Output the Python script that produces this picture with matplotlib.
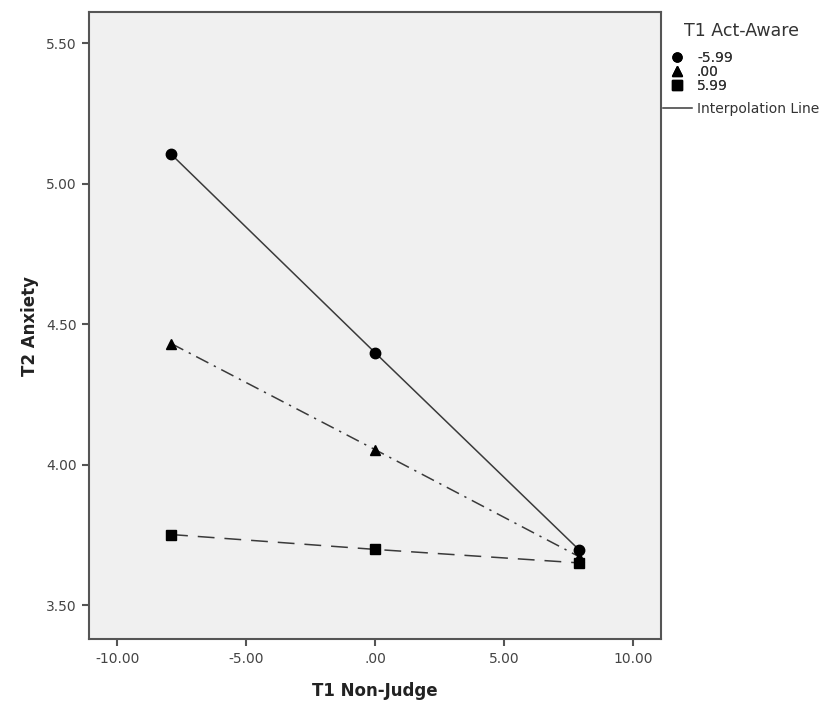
import matplotlib
matplotlib.use("Agg")
import matplotlib.pyplot as plt
from matplotlib.lines import Line2D

# data
non_judge = [-7.91, 0.0, 7.91]
act_aware_labels = ["-5.99", ".00", "5.99"]
anxiety_low = [5.105, 4.398, 3.696]
anxiety_mid = [4.431, 4.053, 3.672]
anxiety_high = [3.751, 3.698, 3.650]

x_ticks = [-10, -5, 0, 5, 10]
x_tick_labels = ["-10.00", "-5.00", ".00", "5.00", "10.00"]
y_ticks = [3.5, 4.0, 4.5, 5.0, 5.5]
y_tick_labels = ["3.50", "4.00", "4.50", "5.00", "5.50"]

plt.rcParams['font.family'] = ['DejaVu Sans']

fig = plt.figure(figsize=(8.30, 7.03), dpi=100)
ax = fig.add_axes([0.1076, 0.091, 0.6888, 0.8919])
ax.set_facecolor("#f0f0f0")

line_col = "#3a3a3a"
series = [
    (anxiety_low, "o", "-"),
    (anxiety_mid, "^", (0, (9, 4, 1.5, 4))),
    (anxiety_high, "s", (0, (11, 6.5))),
]
for vals, mk, ls in series:
    ax.plot(non_judge, vals, color=line_col, linestyle=ls, linewidth=1.1, zorder=2)
    ax.plot(non_judge, vals, linestyle="none", marker=mk, markersize=7.5,
            color="black", zorder=3)

ax.set_xlim(-11.08, 11.08)
ax.set_ylim(3.379, 5.611)
ax.set_xticks(x_ticks)
ax.set_xticklabels(x_tick_labels)
ax.set_yticks(y_ticks)
ax.set_yticklabels(y_tick_labels)
ax.tick_params(direction="out", length=5, width=1.5, color="#555555",
               labelcolor="#444444", labelsize=10, pad=4)
for s in ax.spines.values():
    s.set_color("#555555")
    s.set_linewidth(1.5)

ax.set_xlabel("T1 Non-Judge", fontsize=12, fontweight="bold", color="#222222", labelpad=12)
ax.set_ylabel("T2 Anxiety", fontsize=12, fontweight="bold", color="#222222", labelpad=5)

# legend: title, marker entries, then the interpolation line
fig.text(684 / 830, 1 - 31 / 703, "T1 Act-Aware", fontsize=12.5, color="#333333",
         ha="left", va="center")

handles = [Line2D([], [], linestyle="none", marker=m, color="black", markersize=6.5)
           for m in ["o", "^", "s"]]
leg1 = fig.legend(handles, act_aware_labels,
                  loc="upper left", bbox_to_anchor=(671.4 / 830, 1 - 51 / 703), frameon=False,
                  fontsize=10, handlelength=0.8, handletextpad=1.04,
                  labelspacing=0.0, borderaxespad=0, borderpad=0)
for t in leg1.get_texts():
    t.set_color("#333333")
fig.add_artist(leg1)

leg2 = fig.legend([Line2D([], [], color=line_col, linewidth=1.1)], ["Interpolation Line"],
                  loc="upper left", bbox_to_anchor=(663 / 830, 1 - 102 / 703), frameon=False,
                  fontsize=10, handlelength=2.09, handletextpad=0.36,
                  borderaxespad=0, borderpad=0)
for t in leg2.get_texts():
    t.set_color("#333333")

fig.savefig("out.png", dpi=100)
